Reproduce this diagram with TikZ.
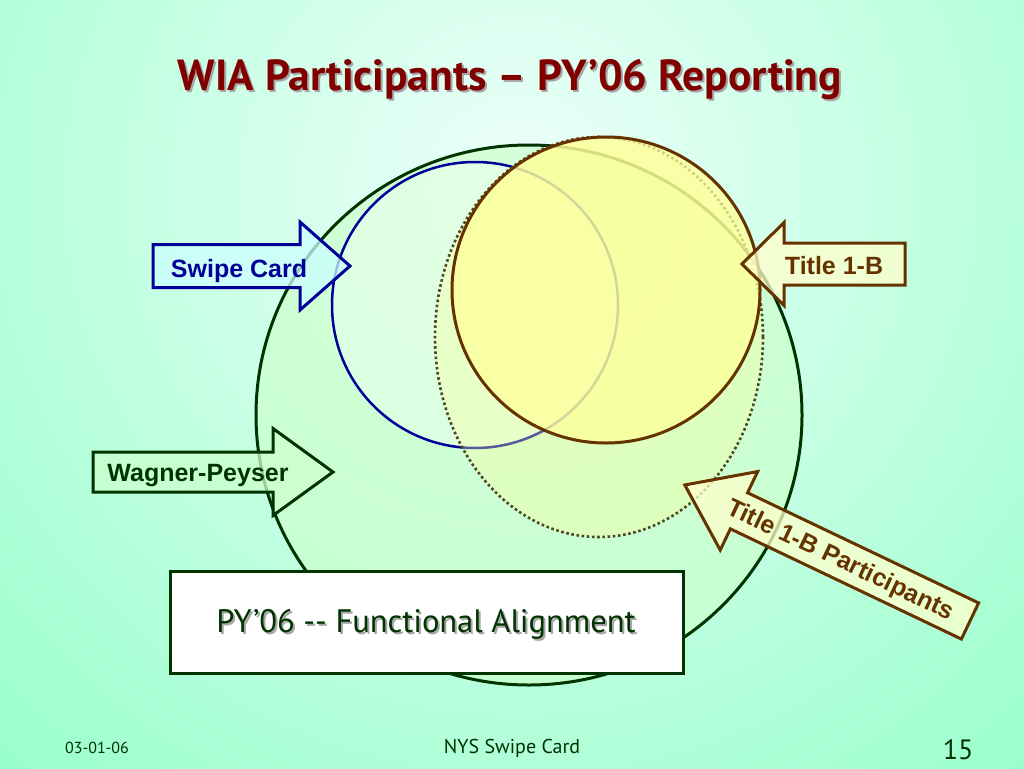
\documentclass[tikz,border=0pt]{standalone}
\usepackage{fontspec}
\setmainfont{Liberation Sans}
\newfontfamily\slidefont{PT Sans}
\usetikzlibrary{positioning}
\definecolor{mint}{RGB}{153,255,204}
\definecolor{glow}{RGB}{238,255,250}
\definecolor{leaf}{RGB}{204,255,204}
\definecolor{pine}{RGB}{0,51,0}
\definecolor{navy}{RGB}{0,0,153}
\definecolor{rust}{RGB}{102,51,0}
\definecolor{lemon}{RGB}{255,255,153}
\definecolor{cream}{RGB}{255,255,204}
\definecolor{ice}{RGB}{204,255,255}
\definecolor{maroon}{RGB}{128,0,0}
\definecolor{olivedot}{RGB}{80,70,35}
% block arrow along local x: length, shaft half width, head half width, head length
\newcommand{\blockarrow}[5][]{%
  \draw[#1] (0,-#3) -- ({#2-#5},-#3) -- ({#2-#5},-#4) -- (#2,0) -- ({#2-#5},#4) -- ({#2-#5},#3) -- (0,#3) -- cycle;}

\begin{document}
\begin{tikzpicture}[x=1pt,y=-1pt,line join=miter,
  arrowtext/.style={font=\fontsize{25}{30}\selectfont\bfseries,anchor=base,inner sep=0pt},
  shadetext/.style={text=black!35}]
  \useasboundingbox (0,0) rectangle (1024,768);
  % backdrop
  \fill[mint] (0,0) rectangle (1024,768);
  \begin{scope}
    \clip (0,0) rectangle (1024,768);
    \shade[inner color=glow,outer color=mint] (520,190) circle [radius=780pt];
  \end{scope}
  % sets
  \filldraw[pine,fill=leaf,fill opacity=0.7,line width=3pt] (529,415) circle [x radius=273pt,y radius=270pt];
  \filldraw[navy,fill=white,fill opacity=0.3,line width=2.5pt] (475,305) circle [radius=143pt];
  \filldraw[olivedot,fill=lemon,fill opacity=0.35,line width=2.6pt,dash pattern=on 2.6pt off 2.6pt] (599,337) circle [x radius=164pt,y radius=200pt];
  \filldraw[rust,fill=lemon,fill opacity=0.75,line width=3pt] (606,290) circle [x radius=154pt,y radius=153pt];
  % callout arrows
  \begin{scope}[shift={(153,266)}]
    \blockarrow[navy,fill=ice,fill opacity=0.75,line width=3pt]{197}{21.5}{44}{50}
  \end{scope}
  \begin{scope}[shift={(905,264)},rotate=180]
    \blockarrow[rust,fill=cream,fill opacity=0.75,line width=3pt]{163}{21}{41.5}{42}
  \end{scope}
  \begin{scope}[shift={(93,472)}]
    \blockarrow[pine,fill=leaf,fill opacity=0.75,line width=3pt]{240}{20}{43.5}{60}
  \end{scope}
  \begin{scope}[shift={(970,621)},rotate=154.5]
    \blockarrow[rust,fill=cream,fill opacity=0.75,line width=3pt]{316}{20}{43.5}{60}
  \end{scope}
  \node[arrowtext,text=navy] (swipe) at (239,277) {Swipe Card};
  \node[arrowtext,text=rust] (titleb) at (834,274) {Title 1-B};
  \node[arrowtext,text=pine] (wagner) at (198,481) {Wagner-Peyser};
  \node[arrowtext,text=rust,anchor=center,rotate=-25.5] (partic) at (840,561) {Title 1-B Participants};
  % alignment box
  \node[draw=pine,fill=white,line width=3pt,minimum width=513pt,minimum height=102pt] (alignbox) at (426.5,622) {};
  \node[shadetext,font=\slidefont\fontsize{32.5}{38}\selectfont,anchor=base] at (428,634) {PY’06 -{}- Functional Alignment};
  \node[text=pine,font=\slidefont\fontsize{32.5}{38}\selectfont,anchor=base] (aligntext) at (426,632) {PY’06 -{}- Functional Alignment};
  % heading
  \node[shadetext,font=\slidefont\bfseries\fontsize{43.5}{50}\selectfont,anchor=base] at (512,92) {WIA Participants – PY’06 Reporting};
  \node[text=maroon,font=\slidefont\bfseries\fontsize{43.5}{50}\selectfont,anchor=base] (title) at (510,90) {WIA Participants – PY’06 Reporting};
  % footer
  \node[text=pine,font=\slidefont\fontsize{16}{19}\selectfont] (date) at (97,748) {03-01-06};
  \node[text=pine,font=\slidefont\fontsize{20}{24}\selectfont] (foot) at (512,748) {NYS Swipe Card};
  \node[text=pine,font=\slidefont\fontsize{28}{32}\selectfont] (page) at (958,750) {15};
\end{tikzpicture}
\end{document}
